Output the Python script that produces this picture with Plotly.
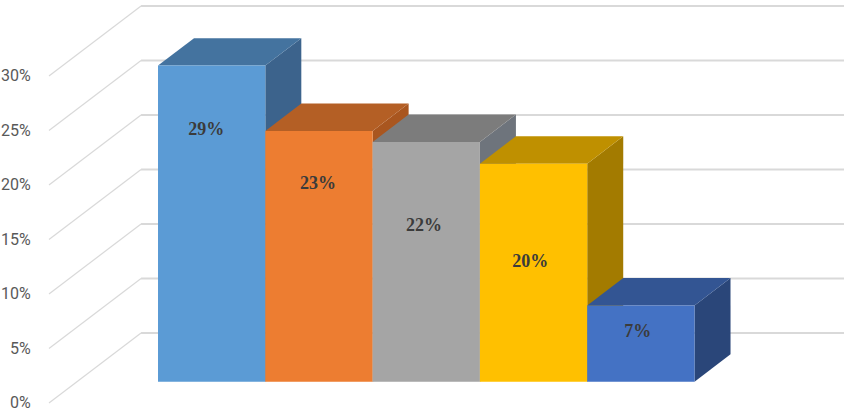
import plotly.graph_objects as go

# values
values = [29, 23, 22, 20, 7]
value_labels = ["29%", "23%", "22%", "20%", "7%"]
grid_values = [0, 5, 10, 15, 20, 25, 30]
tick_labels = ["0%", "5%", "10%", "15%", "20%", "25%", "30%"]

# bar colours: front, top, side
front_colors = ["#5B9BD5", "#ED7D31", "#A5A5A5", "#FFC000", "#4472C4"]
top_colors = ["#44739F", "#B45F25", "#7C7C7C", "#BF9000", "#335593"]
side_colors = ["#3C638C", "#A9561F", "#6E747C", "#A37B00", "#2A4679"]

# where each label sits, as a share of its bar's height
label_share = [0.794, 0.787, 0.646, 0.546, 0.647]
label_shift = [-0.05, -0.01, -0.02, -0.03, -0.03]

# fake 3d projection, in axis units
bar_w = 1.0
depth_x = 0.3355
depth_y = 2.52
wall_front_x, wall_front_y = -1.516, -1.95
wall_back_x, wall_back_y = -0.658, 4.47
wall_end_x = 5.9

fig = go.Figure()


def poly(xs, ys, color):
    fig.add_trace(go.Scatter(x=xs, y=ys, mode="lines", fill="toself", fillcolor=color,
                             line=dict(width=0, color=color), hoverinfo="skip"))


# gridlines: the slanted part on the side wall, then the back wall
for v in grid_values:
    fig.add_trace(go.Scatter(x=[wall_front_x, wall_back_x], y=[wall_front_y + v, wall_back_y + v],
                             mode="lines", line=dict(color="#D9D9D9", width=1.2), hoverinfo="skip"))
    fig.add_trace(go.Scatter(x=[wall_back_x, wall_end_x], y=[wall_back_y + v, wall_back_y + v],
                             mode="lines", line=dict(color="#D9D9D9", width=2), hoverinfo="skip"))

# left to right so every bar covers the side of the one before it
for i, v in enumerate(values):
    x0 = i - bar_w / 2
    x1 = i + bar_w / 2
    poly([x1, x1 + depth_x, x1 + depth_x, x1, x1], [0, depth_y, v + depth_y, v, 0], side_colors[i])
    poly([x0, x0 + depth_x, x1 + depth_x, x1, x0], [v, v + depth_y, v + depth_y, v, v], top_colors[i])
    poly([x0, x0, x1, x1, x0], [0, v, v, 0, 0], front_colors[i])

fig.add_trace(go.Scatter(
    x=[i + s for i, s in enumerate(label_shift)],
    y=[v * s for v, s in zip(values, label_share)],
    mode="text", text=value_labels, textposition="middle center",
    textfont=dict(family="Liberation Serif", size=18, color="#3B3B3B", weight="bold"), hoverinfo="skip"))

# axis labels sit just left of the slanted gridlines
fig.add_trace(go.Scatter(
    x=[wall_front_x - 0.17] * len(grid_values),
    y=[wall_front_y + v - 0.1 for v in grid_values],
    mode="text", text=tick_labels, textposition="middle left",
    textfont=dict(family="Roboto", size=16, color="#595959"), hoverinfo="skip"))

fig.update_layout(
    width=844, height=409, showlegend=False,
    margin=dict(l=0, r=0, t=0, b=0),
    paper_bgcolor="white", plot_bgcolor="white",
    xaxis=dict(visible=False, range=[-1.9725, 5.893]),
    yaxis=dict(visible=False, range=[-2.505, 35.02]),
)
# the page's default body margin would push the chart 8px in
fig.write_html("out.html", config={"displayModeBar": False},
               post_script="document.body.style.margin='0';document.body.style.overflow='hidden';")
